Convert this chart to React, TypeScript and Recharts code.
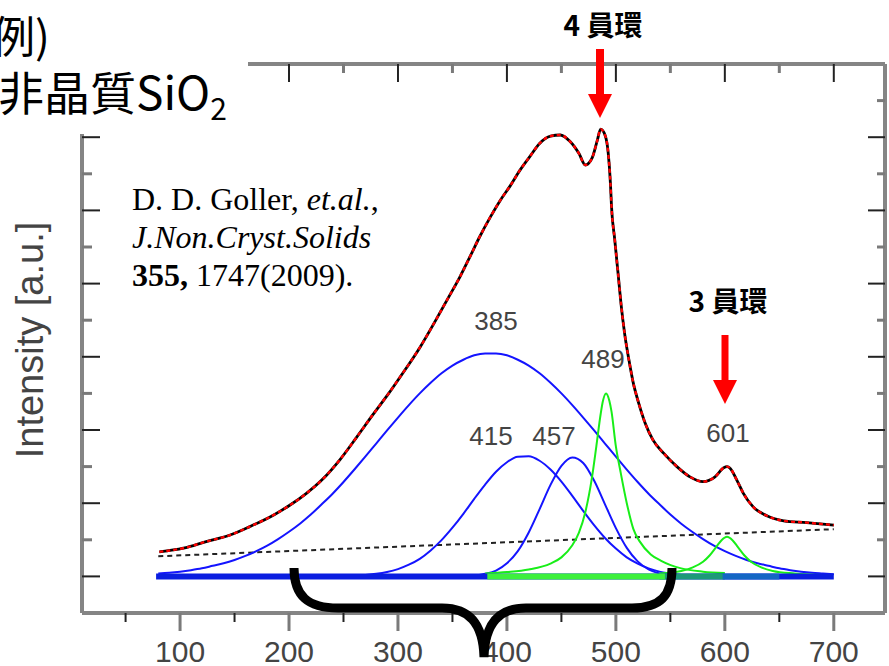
import React from 'react';
import { ComposedChart, Line, XAxis, YAxis } from 'recharts';

// ---- values (Raman shift in cm^-1, intensity in a.u.) ----
const measuredX = [81, 103, 124, 146, 164, 186, 201, 216, 231, 247, 262, 277, 291, 302, 320, 336, 345, 357, 366, 375, 385, 394, 403, 412, 421, 430, 440, 449, 458, 466, 472, 478, 483, 486, 490, 493, 495, 496, 499, 502, 505, 508, 512, 516, 521, 527, 534, 544, 556, 568, 580, 591, 599, 602, 605, 611, 617, 626, 639, 654, 675, 700];
const measuredY = [0.67, 0.77, 0.95, 1.13, 1.36, 1.68, 1.95, 2.27, 2.66, 3.2, 3.8, 4.42, 4.98, 5.45, 6.25, 7.07, 7.55, 8.19, 8.73, 9.28, 9.83, 10.28, 10.67, 11.1, 11.47, 11.83, 12.03, 12.06, 11.88, 11.56, 11.24, 11.42, 11.92, 12.22, 12.06, 11.56, 10.74, 10.1, 9.19, 8.28, 7.37, 6.64, 5.91, 5.28, 4.73, 4.18, 3.73, 3.36, 3.0, 2.72, 2.59, 2.72, 2.97, 3.0, 2.95, 2.63, 2.27, 1.9, 1.65, 1.52, 1.47, 1.4];

const peak385X = [80, 90, 100, 110, 120, 130, 140, 150, 160, 170, 180, 190, 200, 210, 220, 230, 240, 250, 260, 270, 280, 290, 300, 310, 320, 330, 340, 350, 360, 370, 380, 390, 400, 410, 420, 430, 440, 450, 460, 470, 480, 490, 500, 510, 520, 530, 540, 550, 560, 570, 580, 590, 600, 610, 620, 630, 640, 650, 660, 670, 680, 690, 700];
const peak385Y = [0.08, 0.1, 0.13, 0.17, 0.22, 0.29, 0.36, 0.45, 0.56, 0.69, 0.84, 1.02, 1.22, 1.44, 1.69, 1.97, 2.26, 2.58, 2.92, 3.27, 3.63, 3.99, 4.34, 4.68, 5.0, 5.29, 5.55, 5.76, 5.92, 6.04, 6.09, 6.09, 6.04, 5.92, 5.76, 5.55, 5.29, 5.0, 4.68, 4.34, 3.99, 3.63, 3.27, 2.92, 2.58, 2.26, 1.97, 1.69, 1.44, 1.22, 1.02, 0.84, 0.69, 0.56, 0.45, 0.36, 0.29, 0.22, 0.17, 0.13, 0.1, 0.08, 0.06];

const peak415X = [260, 270, 280, 290, 300, 310, 320, 330, 340, 350, 360, 370, 380, 390, 400, 410, 420, 430, 440, 450, 460, 470, 480, 490, 500, 510, 520, 530, 540, 550, 560, 570];
const peak415Y = [0.02, 0.04, 0.07, 0.12, 0.2, 0.32, 0.48, 0.71, 0.99, 1.33, 1.71, 2.12, 2.51, 2.86, 3.12, 3.27, 3.28, 3.16, 2.92, 2.59, 2.2, 1.79, 1.4, 1.05, 0.76, 0.52, 0.35, 0.22, 0.13, 0.08, 0.04, 0.02];

const peak457X = [360, 370, 380, 390, 400, 410, 420, 430, 440, 450, 460, 470, 480, 490, 500, 510, 520, 530, 540, 550, 560];
const peak457Y = [0.01, 0.02, 0.07, 0.16, 0.36, 0.69, 1.2, 1.84, 2.5, 3.02, 3.25, 3.1, 2.62, 1.97, 1.32, 0.78, 0.41, 0.19, 0.08, 0.03, 0.01];

const peak489X = [380, 400, 420, 440, 450, 460, 466, 472, 478, 482, 486, 488, 491, 494, 496, 500, 504, 510, 516, 522, 532, 542, 560, 580, 600];
const peak489Y = [0.08, 0.12, 0.19, 0.35, 0.52, 0.85, 1.19, 1.76, 2.69, 3.54, 4.43, 4.78, 5.0, 4.8, 4.5, 3.55, 2.9, 2.0, 1.3, 0.95, 0.6, 0.42, 0.22, 0.13, 0.09];

const peak601X = [540, 560, 570, 580, 586, 592, 597, 602, 607, 612, 618, 624, 634, 644, 664, 690];
const peak601Y = [0.08, 0.15, 0.24, 0.4, 0.57, 0.8, 0.99, 1.08, 0.99, 0.8, 0.57, 0.4, 0.24, 0.15, 0.08, 0.04];

const baselineX = [80, 700];
const baselineY = [0.55, 1.29];

// flat zero level where all fitted components overlap
const zeroBlueX = [78, 700];
const zeroTealX = [540, 600];
const zeroSteelX = [598, 650];
const zeroGreenX = [382, 545];
const zeroY = [0, 0];

const xTicks = [50, 100, 150, 200, 250, 300, 350, 400, 450, 500, 550, 600, 650, 700];
const xTickLabels = [100, 200, 300, 400, 500, 600, 700];
const yTicks = [0, 1, 2, 3, 4, 5, 6, 7, 8, 9, 10, 11, 12, 13];

const peakLabels = ['385', '415', '457', '489', '601'];
const ringLabels = ['4 員環', '3 員環'];
const sampleLines = ['例)', '非晶質SiO', '2'];
const yLabel = 'Intensity [a.u.]';

const X_DOMAIN: [number, number] = [10, 747];
const Y_DOMAIN: [number, number] = [-1, 14];

const toRows = (xs: number[], ys: number[]) => xs.map((x, i) => ({ x, y: ys[i] }));

const SANS = "'Liberation Sans', Arial, sans-serif";
const SERIF = "'Liberation Serif', 'Times New Roman', serif";
const CJK = "'Noto Sans CJK TC', 'Noto Sans CJK SC', sans-serif";

const isMajorX = (v: number) => v % 100 === 0;
const isMajorY = (v: number) => v % 2 === 0;

const BottomTick = (props: any) => {
  const { x, y, payload } = props;
  const v = payload.value;
  const major = isMajorX(v);
  return (
    <g>
      <line x1={x} x2={x} y1={y} y2={y + (major ? 18 : 9)} stroke={major ? '#7a7a7a' : '#222'} strokeWidth={major ? 3 : 2} />
      {xTickLabels.includes(v) && (
        <text x={x} y={y + 49} textAnchor="middle" fontFamily={SANS} fontSize={30} fill="#444">
          {v}
        </text>
      )}
    </g>
  );
};

const TopTick = (props: any) => {
  const { x, y, payload } = props;
  const major = isMajorX(payload.value);
  return (
    <line x1={x} x2={x} y1={y} y2={y + (major ? 18 : 9)} stroke={major ? '#222' : '#7a7a7a'} strokeWidth={major ? 2 : 3} />
  );
};

const LeftTick = (props: any) => {
  const { x, y, payload } = props;
  const major = isMajorY(payload.value);
  return (
    <line x1={x} x2={x + (major ? 18 : 10)} y1={y} y2={y} stroke={major ? '#222' : '#7a7a7a'} strokeWidth={major ? 2 : 3} />
  );
};

const RightTick = (props: any) => {
  const { x, y, payload } = props;
  const major = isMajorY(payload.value);
  return (
    <line x1={x} x2={x - (major ? 17 : 8)} y1={y} y2={y} stroke={major ? '#222' : '#7a7a7a'} strokeWidth={major ? 2 : 3} />
  );
};

const axisLine = { stroke: '#858585', strokeWidth: 4 };

export default function App() {
  const BLUE = '#1414ff';
  const GREEN = '#18ee18';
  const common = {
    type: 'monotone' as const,
    dataKey: 'y',
    dot: false,
    activeDot: false,
    isAnimationActive: false,
    xAxisId: 'b',
    yAxisId: 'l',
  };
  return (
    <div style={{ position: 'absolute', left: 0, top: 0, width: 889, height: 666, background: '#fff' }}>
      <ComposedChart width={889} height={666} margin={{ top: 0, right: 0, bottom: 0, left: 0 }}>
        <XAxis xAxisId="b" dataKey="x" type="number" orientation="bottom" domain={X_DOMAIN} ticks={xTicks} interval={0}
          height={53} tickSize={0} tickMargin={0} tickLine={false} tick={BottomTick} axisLine={axisLine} allowDataOverflow />
        <XAxis xAxisId="t" dataKey="x" type="number" orientation="top" domain={X_DOMAIN} ticks={xTicks} interval={0}
          height={64} tickSize={0} tickMargin={0} tickLine={false} tick={TopTick} axisLine={axisLine} allowDataOverflow />
        <YAxis yAxisId="l" type="number" orientation="left" domain={Y_DOMAIN} ticks={yTicks} interval={0}
          width={82} tickSize={0} tickMargin={0} tickLine={false} tick={LeftTick} axisLine={axisLine} allowDataOverflow />
        <YAxis yAxisId="r" type="number" orientation="right" domain={Y_DOMAIN} ticks={yTicks} interval={0}
          width={4} tickSize={0} tickMargin={0} tickLine={false} tick={RightTick} axisLine={axisLine} allowDataOverflow />

        <Line {...common} xAxisId="t" yAxisId="r" type="linear" data={toRows(baselineX, baselineY)} stroke="#222" strokeWidth={2} strokeDasharray="5 4" />
        <Line {...common} data={toRows(peak385X, peak385Y)} stroke={BLUE} strokeWidth={2} />
        <Line {...common} data={toRows(peak415X, peak415Y)} stroke={BLUE} strokeWidth={2} />
        <Line {...common} data={toRows(peak457X, peak457Y)} stroke={BLUE} strokeWidth={2} />
        <Line {...common} data={toRows(peak601X, peak601Y)} stroke={GREEN} strokeWidth={2} />
        <Line {...common} data={toRows(peak489X, peak489Y)} stroke={GREEN} strokeWidth={2} />
        <Line {...common} type="linear" data={toRows(zeroBlueX, zeroY)} stroke="#0a1ee0" strokeWidth={6} />
        <Line {...common} type="linear" data={toRows(zeroTealX, zeroY)} stroke="#1c9a78" strokeWidth={6} />
        <Line {...common} type="linear" data={toRows(zeroSteelX, zeroY)} stroke="#1466c4" strokeWidth={6} />
        <Line {...common} type="linear" data={toRows(zeroGreenX, zeroY)} stroke="#3cf03c" strokeWidth={6} />
        <Line {...common} data={toRows(measuredX, measuredY)} stroke="#000" strokeWidth={2.8} />
        <Line {...common} data={toRows(measuredX, measuredY)} stroke="#ff0000" strokeWidth={2.4} strokeDasharray="4 3" />
      </ComposedChart>

      <svg width={889} height={666} style={{ position: 'absolute', left: 0, top: 0, pointerEvents: 'none' }}>
        <rect x={0} y={0} width={248} height={134} fill="#fff" />
        <text x={-9} y={53} fontFamily={CJK} fontSize={44} fill="#000">{sampleLines[0]}</text>
        <text x={-2} y={110} fontFamily={CJK} fontSize={46} fill="#000">
          {sampleLines[1]}
          <tspan fontSize={30} dy={10}>{sampleLines[2]}</tspan>
        </text>

        <g transform="translate(43,340) rotate(-90)">
          <text x={0} y={0} textAnchor="middle" fontFamily={SANS} fontSize={38} fill="#444">{yLabel}</text>
        </g>

        <text x={132} y={210} fontFamily={SERIF} fontSize={32} fill="#000">
          D. D. Goller, <tspan fontStyle="italic">et.al.</tspan>,
        </text>
        <text x={132} y={248} fontFamily={SERIF} fontSize={32} fontStyle="italic" fill="#000">J.Non.Cryst.Solids</text>
        <text x={132} y={286} fontFamily={SERIF} fontSize={32} fill="#000">
          <tspan fontWeight="bold">355,</tspan> 1747(2009).
        </text>

        <g fontFamily={SANS} fontSize={26} fill="#444" textAnchor="middle">
          <text x={496} y={330}>{peakLabels[0]}</text>
          <text x={491} y={445}>{peakLabels[1]}</text>
          <text x={554} y={445}>{peakLabels[2]}</text>
          <text x={603} y={368}>{peakLabels[3]}</text>
          <text x={728} y={442}>{peakLabels[4]}</text>
        </g>

        <text x={603} y={36} textAnchor="middle" fontFamily={CJK} fontWeight="bold" fontSize={28} fill="#000">{ringLabels[0]}</text>
        <rect x={596} y={49} width={8} height={46} fill="#ff0000" />
        <polygon points="588,94 612,94 600,118" fill="#ff0000" />

        <text x={728} y={312} textAnchor="middle" fontFamily={CJK} fontWeight="bold" fontSize={28} fill="#000">{ringLabels[1]}</text>
        <rect x={721.5} y={335} width={7} height={46} fill="#ff0000" />
        <polygon points="713,380 737,380 725,404" fill="#ff0000" />

        <path
          d="M 294 568 C 294 596, 308 608, 338 608 L 442 608 C 468 608, 483 622, 484 657 C 485 622, 500 608, 526 608 L 632 608 C 660 608, 672 596, 672 568"
          fill="none" stroke="#000" strokeWidth={9} strokeLinejoin="miter" strokeLinecap="butt"
        />
      </svg>
    </div>
  );
}
